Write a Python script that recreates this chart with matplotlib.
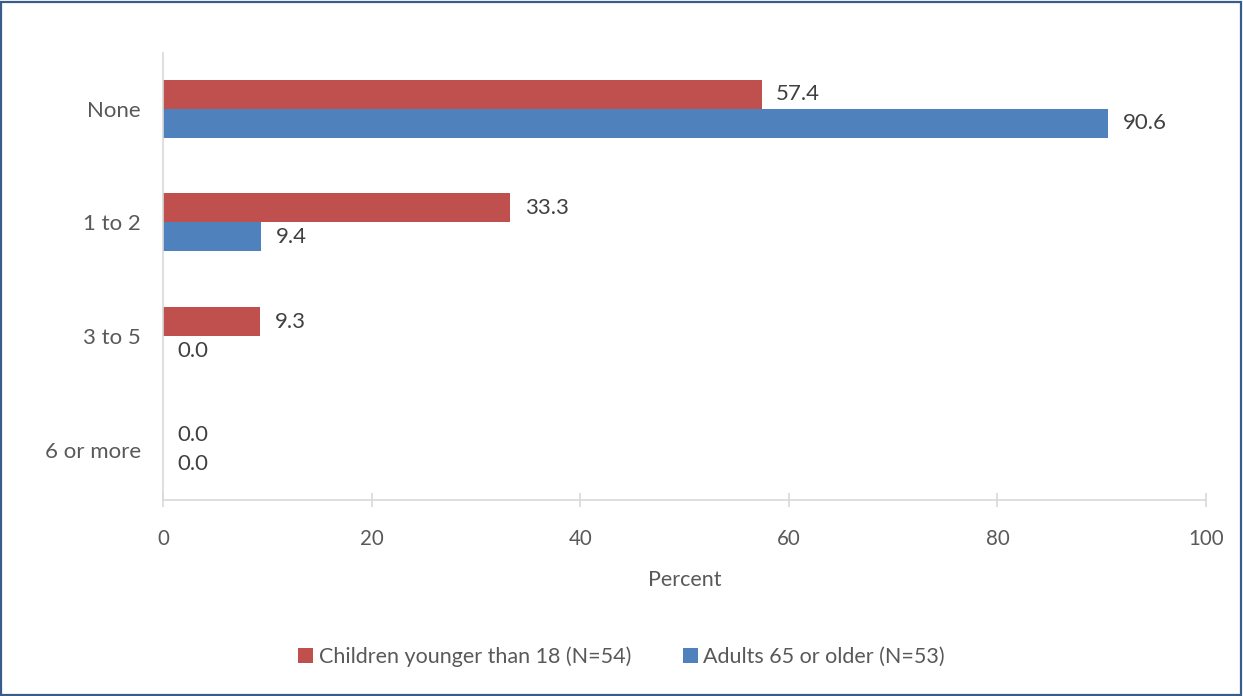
import matplotlib
matplotlib.use("Agg")
import matplotlib.pyplot as plt
from matplotlib.patches import Rectangle
import numpy as np

categories = ["None", "1 to 2", "3 to 5", "6 or more"]
children = [57.4, 33.3, 9.3, 0.0]
adults = [90.6, 9.4, 0.0, 0.0]
series_names = ["Children younger than 18 (N=54)", "Adults 65 or older (N=53)"]
colors = ["#C0504D", "#4F81BD"]
xticks = [0, 20, 40, 60, 80, 100]

plt.rcParams['font.family'] = ['Lato', 'DejaVu Sans']
txt = "#595959"

fig = plt.figure(figsize=(12.43, 6.96), dpi=100)
W, H = 1243, 696
ax = fig.add_axes([163 / W, 1 - 500 / H, (1206 - 163) / W, (500 - 53) / H])

y = np.arange(len(categories))
h = 0.255
b1 = ax.barh(y - h / 2, children, height=h, color=colors[0], label=series_names[0])
b2 = ax.barh(y + h / 2, adults, height=h, color=colors[1], label=series_names[1])
for bars, vals in ((b1, children), (b2, adults)):
    for rect, v in zip(bars, vals):
        ax.annotate(f"{v:.1f}", (v, rect.get_y() + rect.get_height() / 2),
                    xytext=(10.5, 0), textcoords="offset points",
                    va="center", ha="left", fontsize=16, color="#404040")

ax.set_ylim(3.44, -0.49)
ax.set_xlim(0, 100)
ax.set_xticks(xticks)
ax.set_yticks(y)
ax.set_yticklabels(categories)
ax.tick_params(axis='y', length=0, pad=16, labelsize=16, labelcolor=txt)
ax.tick_params(axis='x', direction='inout', length=10, width=1.2, color="#D9D9D9",
               pad=16, labelsize=14.8, labelcolor=txt)
for s in ("top", "right"):
    ax.spines[s].set_visible(False)
for s in ("left", "bottom"):
    ax.spines[s].set_color("#D9D9D9")
    ax.spines[s].set_linewidth(1.2)
ax.set_xlabel("Percent", fontsize=15.5, color=txt, labelpad=15)

fig.legend(handles=[b1, b2], labels=series_names, loc="center", ncol=2,
           bbox_to_anchor=(0.5, 1 - 657 / H), frameon=False, fontsize=15.5,
           labelcolor=txt, handlelength=0.7, handleheight=0.7, handletextpad=0.25,
           columnspacing=2.4)

fig.add_artist(Rectangle((1 / W, 1 / H), 1 - 3 / W, 1 - 3 / H, transform=fig.transFigure,
                         fill=False, edgecolor="#385D8A", linewidth=1.6))

fig.savefig("out.png", dpi=100)
